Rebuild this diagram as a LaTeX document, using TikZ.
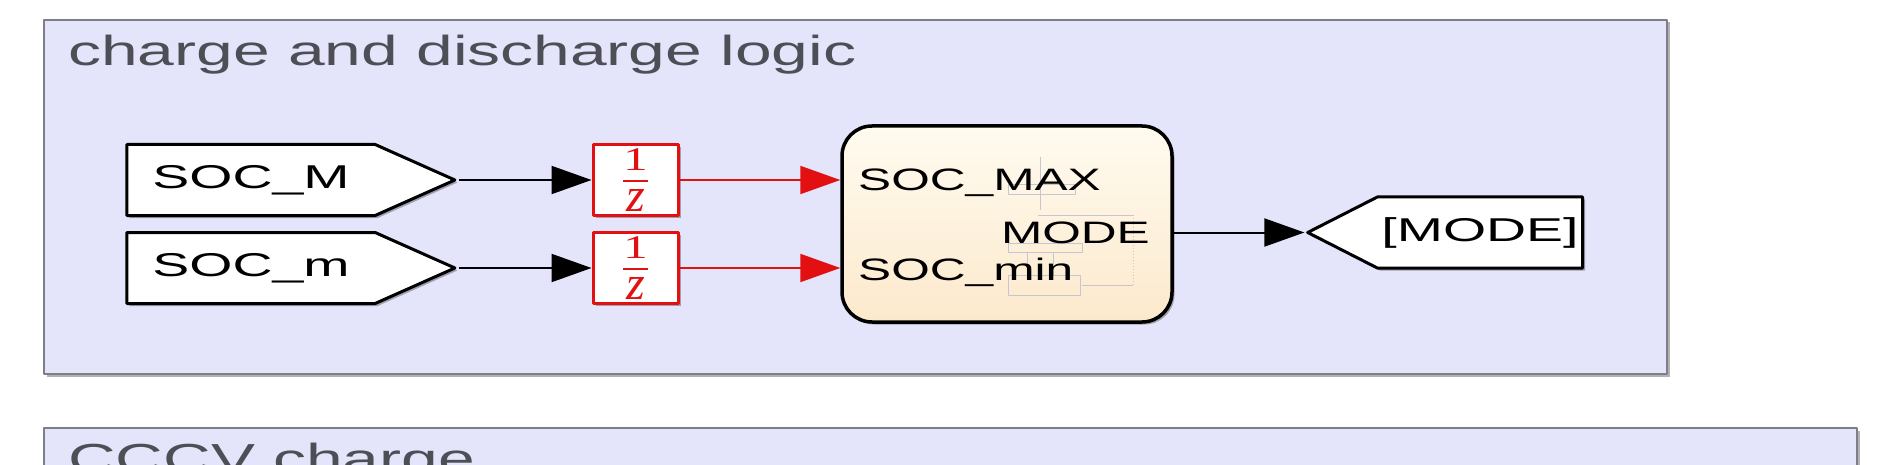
\documentclass[tikz,border=0pt]{standalone}
\usepackage{fontspec}
\setmainfont{Liberation Sans}
\newfontfamily\delayserif{Liberation Serif}
\usetikzlibrary{arrows.meta,calc,positioning,shapes.symbols,shadows}
\definecolor{panelfill}{RGB}{228,228,250}
\definecolor{panelline}{RGB}{126,126,136}
\definecolor{titlegray}{RGB}{78,78,86}
\definecolor{delayred}{RGB}{226,16,16}
\definecolor{charttop}{RGB}{255,251,240}
\definecolor{chartbot}{RGB}{252,233,204}
\definecolor{thumbline}{RGB}{200,196,210}
\newcommand{\blockfont}{\fontsize{31}{36}\selectfont}
\newcommand{\tagfont}{\fontsize{33}{38}\selectfont}
\newcommand{\wide}[1]{\scalebox{1.6}[1]{#1}}
\newcommand{\tagwide}[1]{\scalebox{1.68}[1]{#1}}
\newcommand{\unitdelay}{$\displaystyle{\mbox{\delayserif\fontsize{33}{33}\selectfont\scalebox{1.5}[1]{1}}
  \above 2.5pt \mbox{\delayserif\fontsize{48}{48}\selectfont\kern2pt\itshape z\kern2pt}}$}
\tikzset{
  soft shadow/.style={drop shadow={shadow xshift=2.5pt,shadow yshift=-2.5pt,fill=black,opacity=.3}},
  panel/.style={fill=panelfill,draw=panelline,line width=2pt,soft shadow},
  panel title/.style={font=\fontsize{42}{50}\selectfont,text=titlegray,inner sep=0pt,anchor=base west},
  tag block/.style={shape=signal,draw,fill=white,line width=3pt,minimum height=71pt,
    font=\tagfont,inner sep=0pt,soft shadow},
  delay/.style={draw=delayred,fill=white,line width=3pt,minimum width=85pt,minimum height=71pt,
    inner sep=0pt,text=delayred,font=\blockfont,soft shadow},
  chart/.style={draw,line width=3.5pt,rounded corners=30pt,top color=charttop,bottom color=chartbot,
    minimum width=330pt,minimum height=196pt,soft shadow},
  port label/.style={font=\blockfont,inner sep=0pt},
  wire/.style={line width=2pt,-{Triangle[length=40pt,width=28pt]}},
  thumb/.style={draw=thumbline,line width=1pt}
}

\begin{document}
\begin{tikzpicture}[x=1pt,y=-1pt,line join=round]
  \useasboundingbox (0,0) rectangle (1881,465);
  \clip (0,0) rectangle (1881,465);

  % subsystem areas
  \draw[panel] (44,20) rectangle (1667,374);
  \draw[panel] (44,428) rectangle (1857,520);
  \node[panel title] (logictitle) at (68,66) {\scalebox{1.57}[1]{charge and discharge logic}};
  \node[panel title] (cccvtitle) at (68,473) {\scalebox{1.57}[1]{CCCV charge}};

  % blocks
  \node[tag block,signal to=east,signal pointer angle=48,minimum width=328pt] (socM) at (251,180) {\tagwide{SOC\_M}};
  \node[tag block,signal to=east,signal pointer angle=48,minimum width=328pt] (socm) at (251,268) {\tagwide{SOC\_m}};
  \node[delay] (d1) at (635.5,180) {\unitdelay};
  \node[delay] (d2) at (635.5,268) {\unitdelay};
  \node[chart] (chart) at (1007,224) {};
  \node[tag block,signal to=west,signal pointer angle=54,minimum width=275pt] (mode) at (1480,232.5) {\tagwide{[MODE]}};

  % faint picture inside the chart
  \draw[thumb] (1040,157)--(1040,210) (1008,185) rectangle (1075,195)
        (1038,215)--(1133,215) (1008,243) rectangle (1082,252)
        (1027,252)--(1027,275) (1053,252)--(1053,275)
        (1008,275) rectangle (1080,295) (1082,285)--(1133,285);
  \draw[thumb,dotted] (1133,215)--(1133,285);

  \node[port label,anchor=base west] (pmax) at (858,190) {\wide{SOC\_MAX}};
  \node[port label,anchor=base west] (pmin) at (858,280) {\wide{SOC\_min}};
  \node[port label,anchor=base east] (pmode) at (1150,243) {\wide{MODE}};

  % signal lines
  \draw[wire] (socM.east) -- (d1.west);
  \draw[wire] (socm.east) -- (d2.west);
  \draw[wire,delayred] (d1.east) -- (d1.east -| chart.west);
  \draw[wire,delayred] (d2.east) -- (d2.east -| chart.west);
  \draw[wire] (mode.west -| chart.east) -- (mode.west);
\end{tikzpicture}
\end{document}
